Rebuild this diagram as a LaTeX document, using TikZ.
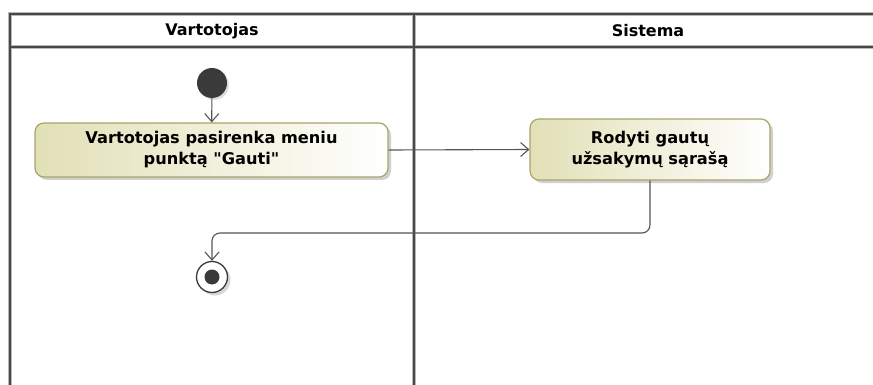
\documentclass[tikz,border=0pt]{standalone}
\usepackage{fontspec}
\setmainfont{DejaVu Sans}[Ligatures=TeXOff]
\usetikzlibrary{arrows.meta,shadows}

\definecolor{laneline}{HTML}{474747}
\definecolor{lanehalo}{HTML}{B8B8B8}
\definecolor{actfill}{HTML}{E2E0B6}
\definecolor{actedge}{HTML}{A9A46C}
\definecolor{flowline}{HTML}{555555}
\definecolor{nodedark}{HTML}{3A3A3A}

\tikzset{
  x=1pt, y=1pt,
  lanehalo/.style={draw=lanehalo, line width=4pt},
  lanestroke/.style={draw=laneline, line width=1.8pt},
  lanetitle/.style={font=\fontsize{16}{19}\selectfont\bfseries, text=black},
  action/.style={draw=actedge, line width=1.2pt, rounded corners=9pt,
    left color=actfill, right color=white, shading angle=90,
    drop shadow={shadow xshift=3pt, shadow yshift=-3pt, fill=black!30, opacity=0.6},
    align=center, inner sep=0pt,
    font=\fontsize{16.2}{21}\selectfont\bfseries, text=black},
  startnode/.style={circle, fill=nodedark, minimum size=30pt, inner sep=0pt,
    drop shadow={shadow xshift=2pt, shadow yshift=-2pt, fill=black!25}},
  endouter/.style={circle, draw=nodedark, line width=1.3pt, fill=white,
    minimum size=31pt, inner sep=0pt,
    drop shadow={shadow xshift=3pt, shadow yshift=-3pt, fill=black!30}},
  enddot/.style={circle, fill=nodedark, minimum size=15pt, inner sep=0pt},
  flow/.style={draw=flowline, line width=1.1pt,
    -{Straight Barb[length=8pt, width=14pt, line width=1.1pt]}},
}

\begin{document}
\begin{tikzpicture}
\useasboundingbox (0,0) rectangle (873,-385);
\fill[white] (0,0) rectangle (873,-385);

\begin{scope}
\clip (0,0) rectangle (873,-385);
% swimlane frame: soft halo under a dark stroke
\foreach \sty in {lanehalo, lanestroke} {
  \draw[\sty] (10,-400) -- (10,-14) -- (890,-14);
  \draw[\sty] (10,-47) -- (890,-47);
  \draw[\sty] (414,-14) -- (414,-400);
}
\end{scope}

% lane titles
\node[lanetitle] (laneA) at (212,-31) {Vartotojas};
\node[lanetitle] (laneB) at (648,-31) {Sistema};

% activity nodes
\node[startnode] (init) at (212,-83) {};
\node[action, minimum width=353pt, minimum height=54pt] (a1) at (211.5,-150)
  {Vartotojas pasirenka meniu\\punktą "Gauti"};
\node[action, minimum width=240pt, minimum height=61pt] (a2) at (650,-149.5)
  {Rodyti gautų\\užsakymų sąrašą};
\node[endouter] (fin) at (212,-277) {};
\node[enddot] (findot) at (fin.center) {};

% control flows
\coordinate (bend) at (650,-233);
\draw[flow] (init) -- (a1);
\draw[flow] (a1.east) -- (a2.west);
\draw[flow, rounded corners=8pt] (a2.south) -- (bend) -| (fin.north);
\end{tikzpicture}
\end{document}
